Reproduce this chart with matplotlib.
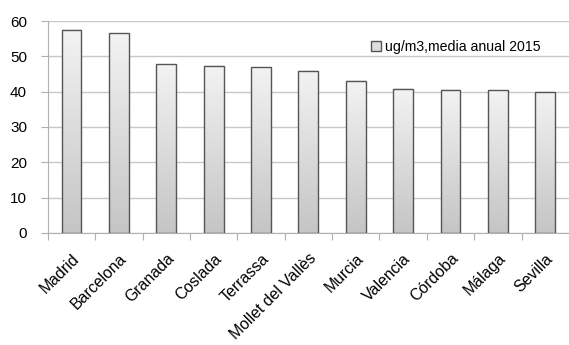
import numpy as np
import matplotlib.pyplot as plt
from matplotlib.transforms import ScaledTranslation

ciudades = ["Madrid", "Barcelona", "Granada", "Coslada", "Terrassa",
            "Mollet del Vallès", "Murcia", "Valencia", "Córdoba", "Málaga", "Sevilla"]
valores = [57.6, 56.5, 47.7, 47.4, 47.0, 45.9, 43.1, 40.8, 40.6, 40.4, 40.0]
serie = "ug/m3,media anual 2015"

plt.rcParams['font.family'] = ['Liberation Sans', 'DejaVu Sans']

fig = plt.figure(figsize=(5.69, 3.45), dpi=100)
ax = fig.add_axes([0.084, 0.325, 0.916, 0.614])

x = np.arange(len(ciudades))
ancho = 0.42

# degradado vertical de cada barra: claro arriba, gris abajo
grad = np.linspace(0.77, 0.95, 256).reshape(-1, 1)
for xi, v in zip(x, valores):
    ax.imshow(grad, cmap='gray', vmin=0, vmax=1, origin='lower', aspect='auto',
              extent=(xi - ancho / 2, xi + ancho / 2, 0, v), zorder=2, interpolation='bilinear')
barras = ax.bar(x, valores, width=ancho, facecolor='none', edgecolor='#555555',
                linewidth=1.0, zorder=3, label=serie)

ax.set_xlim(-0.5, len(ciudades) - 0.5)
ax.set_ylim(0, 60)
ax.set_yticks(range(0, 61, 10))
ax.yaxis.grid(True, color='#c8c8c8', linewidth=1.0, zorder=0)
ax.set_axisbelow(True)

for s in ['top', 'right']:
    ax.spines[s].set_visible(False)
ax.spines['left'].set_color('#b0b0b0')
ax.spines['bottom'].set_color('#b0b0b0')

# marcas del eje x en los limites de categoria
ax.set_xticks(np.arange(-0.5, len(ciudades), 1), minor=False)
ax.set_xticklabels([])
ax.set_xticks(x, minor=True)
etiquetas = ax.set_xticklabels(ciudades, minor=True, rotation=45, ha='right', va='top',
                               rotation_mode='anchor', fontsize=11.4)
desplaza = ScaledTranslation(-0.09, 0, fig.dpi_scale_trans)
for t in etiquetas:
    t.set_transform(t.get_transform() + desplaza)
ax.tick_params(axis='x', which='major', length=5, color='#b0b0b0', direction='out')
ax.tick_params(axis='x', which='minor', length=0, pad=13)
ax.tick_params(axis='y', length=5, color='#b0b0b0', labelsize=11, pad=10)

leg = ax.legend(loc='upper right', bbox_to_anchor=(0.97, 0.97), frameon=False,
                fontsize=10.2, handlelength=0.7, handleheight=0.7, handletextpad=0.3)
for h in leg.legend_handles:
    h.set_facecolor('#dddddd')
    h.set_edgecolor('#555555')

fig.savefig("out.png", dpi=100)
